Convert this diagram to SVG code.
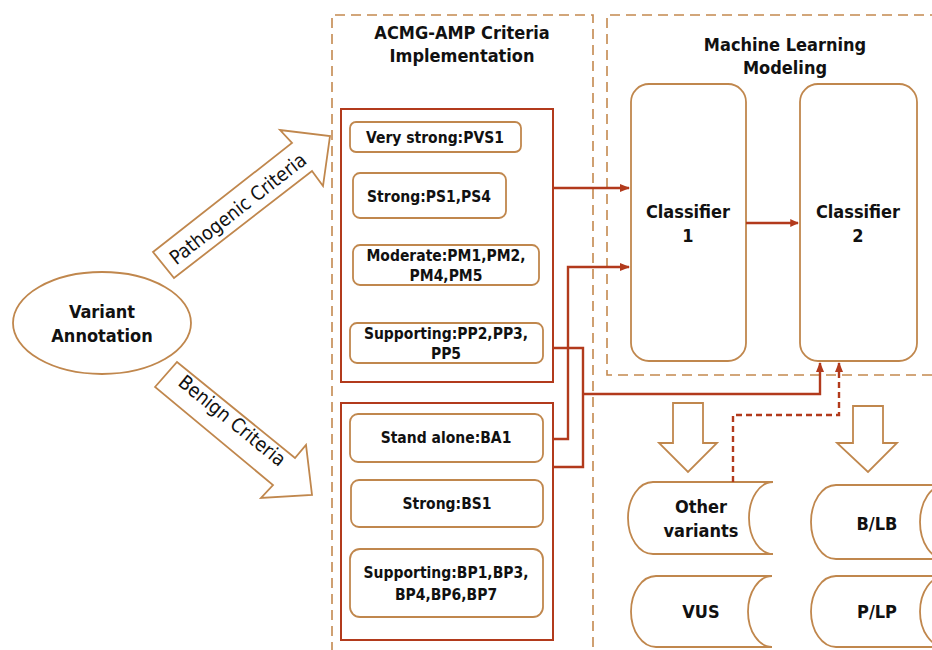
<svg xmlns="http://www.w3.org/2000/svg" width="932" height="650" viewBox="0 0 932 650">
  <defs>
    <style>
      .t { font-family: "DejaVu Sans", "Liberation Sans", sans-serif; font-stretch: condensed; font-weight: bold; fill: #111; text-anchor: middle; }
      .h { font-size: 18px; }
      .b { font-size: 15.5px; }
      .c { font-size: 18px; }
      .n { font-family: "DejaVu Sans", "Liberation Sans", sans-serif; font-stretch: condensed; font-size: 19.5px; fill: #111; text-anchor: middle; }
      .dash { fill: none; stroke: #c4894f; stroke-width: 1.6; stroke-dasharray: 10 6; }
      .tan { fill: #fff; stroke: #c0874d; stroke-width: 1.8; }
      .red { fill: none; stroke: #b23a1c; stroke-width: 2; }
      .link { fill: none; stroke: #b23a1c; stroke-width: 2.4; }
    </style>
    <marker id="ah" viewBox="0 0 10 10" refX="9" refY="5" markerWidth="4.2" markerHeight="4.2" orient="auto" markerUnits="strokeWidth">
      <path d="M0,1 L10,5 L0,9 Z" fill="#b23a1c"/>
    </marker>
    <marker id="ahb" viewBox="0 0 10 10" refX="9" refY="5" markerWidth="4" markerHeight="3.6" orient="auto" markerUnits="strokeWidth">
      <path d="M0,0.5 L10,5 L0,9.5 Z" fill="#b23a1c"/>
    </marker>
  </defs>
  <rect width="932" height="650" fill="#fff"/>

  <!-- stage frames -->
  <g id="frame-acmg">
    <path class="dash" d="M332,652 V15 H593 V652"/>
    <text class="t h" x="462" y="39">ACMG-AMP Criteria</text>
    <text class="t h" x="462" y="62">Implementation</text>
  </g>
  <g id="frame-ml">
    <path class="dash" d="M940,15 H607 V375 H940"/>
    <text class="t h" x="785" y="51">Machine Learning</text>
    <text class="t h" x="785" y="74">Modeling</text>
  </g>

  <!-- input -->
  <g id="variant-annotation">
    <ellipse class="tan" cx="102" cy="323" rx="89" ry="51"/>
    <text class="t c" x="102" y="318">Variant</text>
    <text class="t c" x="102" y="342">Annotation</text>
  </g>

  <g id="pathogenic-arrow">
    <polygon class="tan" points="153,252 292,143 280,130 330,136 323,186 312,171 174,278"/>
    <text class="n" transform="translate(242,214) rotate(-38)">Pathogenic Criteria</text>
  </g>
  <g id="benign-arrow">
    <polygon class="tan" points="155,387 177,362 295,458 306,445 312,495 261,498 273,485"/>
    <text class="n" transform="translate(228,426) rotate(39)">Benign Criteria</text>
  </g>

  <!-- pathogenic criteria -->
  <g id="pathogenic-group">
    <rect class="red" x="341" y="109" width="212" height="273"/>
    <g id="pvs">
      <rect class="tan" x="350" y="122" width="171" height="30" rx="6"/>
      <text class="t b" x="435" y="143">Very strong:PVS1</text>
    </g>
    <g id="ps">
      <rect class="tan" x="353" y="173" width="153" height="45" rx="7"/>
      <text class="t b" x="429" y="202">Strong:PS1,PS4</text>
    </g>
    <g id="pm">
      <rect class="tan" x="353" y="245" width="186" height="40" rx="7"/>
      <text class="t b" x="446" y="261">Moderate:PM1,PM2,</text>
      <text class="t b" x="446" y="281">PM4,PM5</text>
    </g>
    <g id="pp">
      <rect class="tan" x="350" y="323" width="193" height="40" rx="7"/>
      <text class="t b" x="446" y="339">Supporting:PP2,PP3,</text>
      <text class="t b" x="446" y="359">PP5</text>
    </g>
  </g>

  <!-- benign criteria -->
  <g id="benign-group">
    <rect class="red" x="341" y="403" width="212" height="237"/>
    <g id="ba">
      <rect class="tan" x="350" y="414" width="193" height="48" rx="8"/>
      <text class="t b" x="446" y="443">Stand alone:BA1</text>
    </g>
    <g id="bs">
      <rect class="tan" x="351" y="480" width="192" height="47" rx="8"/>
      <text class="t b" x="447" y="509">Strong:BS1</text>
    </g>
    <g id="bp">
      <rect class="tan" x="350" y="549" width="193" height="68" rx="10"/>
      <text class="t b" x="446" y="578">Supporting:BP1,BP3,</text>
      <text class="t b" x="446" y="600">BP4,BP6,BP7</text>
    </g>
  </g>

  <!-- classifiers -->
  <g id="classifier-1">
    <rect class="tan" x="631" y="84" width="115" height="277" rx="18"/>
    <text class="t c" x="688" y="218">Classifier</text>
    <text class="t c" x="688" y="242">1</text>
  </g>
  <g id="classifier-2">
    <rect class="tan" x="800" y="84" width="117" height="277" rx="18"/>
    <text class="t c" x="858" y="218">Classifier</text>
    <text class="t c" x="858" y="242">2</text>
  </g>

  <!-- hollow output arrows -->
  <g id="out-arrow-1">
    <polygon class="tan" points="673,403 703,403 703,443 717,443 688,472 659,443 673,443"/>
  </g>
  <g id="out-arrow-2">
    <polygon class="tan" points="853,406 883,406 883,443 897,443 868,472 837,443 853,443"/>
  </g>

  <!-- output stores -->
  <g id="other-variants">
    <path class="tan" d="M653,482 H773 A24,36 0 0 0 773,554 H653 A25,36 0 0 1 653,482 Z"/>
    <text class="t c" x="701" y="513">Other</text>
    <text class="t c" x="701" y="537">variants</text>
  </g>
  <g id="vus">
    <path class="tan" d="M656,576 H772 A24,35.5 0 0 0 772,647 H656 A25,35.5 0 0 1 656,576 Z"/>
    <text class="t c" x="701" y="618">VUS</text>
  </g>
  <g id="b-lb">
    <path class="tan" d="M836,485 H945 A25,37 0 0 0 945,559 H836 A25,37 0 0 1 836,485 Z"/>
    <text class="t c" x="877" y="530">B/LB</text>
  </g>
  <g id="p-lp">
    <path class="tan" d="M836,576 H945 A25,35.5 0 0 0 945,647 H836 A25,35.5 0 0 1 836,576 Z"/>
    <text class="t c" x="877" y="618">P/LP</text>
  </g>

  <!-- connectors -->
  <g id="connectors">
    <path class="link" d="M553,188 H629" marker-end="url(#ah)"/>
    <path class="link" d="M553,439 H568 V267 H629" marker-end="url(#ah)"/>
    <path class="link" d="M553,348 H583 V467 H553"/>
    <path class="link" d="M583,394 H820 V363" marker-end="url(#ah)"/>
    <path class="link" d="M733,482 V415 H839 V363" stroke-dasharray="6 4" marker-end="url(#ah)"/>
    <path class="link" d="M746,223 H798" stroke-width="3.4" marker-end="url(#ahb)"/>
  </g>
</svg>
